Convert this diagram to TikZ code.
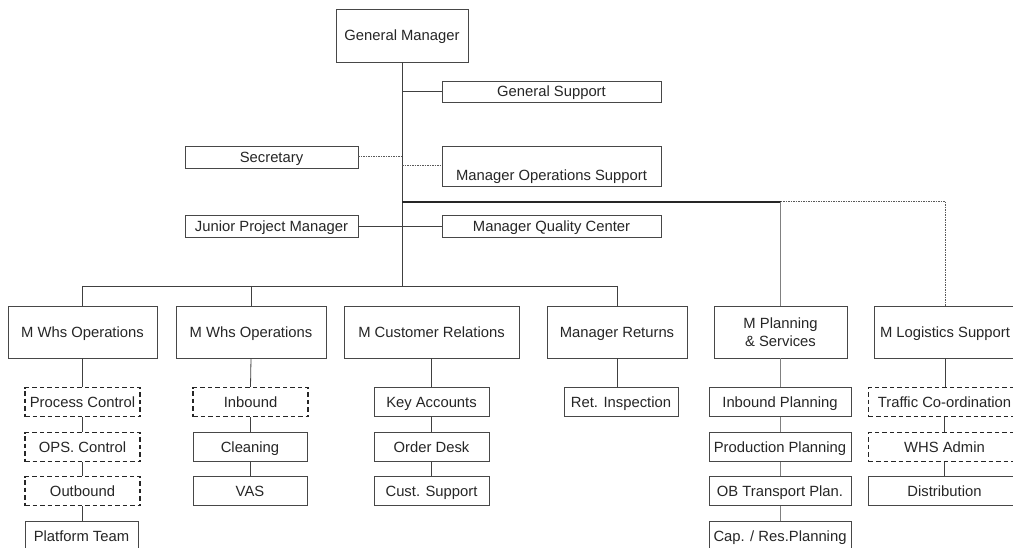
\documentclass[tikz,border=0pt]{standalone}
\usepackage{fontspec}
\setmainfont{Liberation Sans}
\begin{document}
\begin{tikzpicture}[x=1pt,y=-1pt,
  box/.style={draw=black!72, line width=0.7pt, inner sep=0pt, fill=white,
    font=\fontsize{14.8}{18}\selectfont, text=black!85, align=center,
    text height=10.6pt, text depth=0pt},
  dbox/.style={box, draw=black!85, line width=1.1pt, dash pattern=on 4.5pt off 3pt},
  link/.style={draw=black!75, line width=0.8pt},
  heavylink/.style={draw=black!85, line width=1.6pt},
  lightlink/.style={draw=black!50, line width=0.7pt},
  dotlink/.style={draw=black!65, line width=1pt, dash pattern=on 1.5pt off 1pt},
  lbl/.style={inner sep=0pt, font=\fontsize{14.8}{18}\selectfont, text=black!85,
    text height=10.6pt, text depth=0pt}]
\useasboundingbox (0,0) rectangle (1013,548);
\clip (0,0) rectangle (1013,548);

% top management
\node[box, minimum width=132pt, minimum height=53pt] (gm) at (402,35.5) {General Manager};
\node[box, minimum width=219pt, minimum height=21pt] (gs) at (551.5,91.5) {General Support};
\node[box, minimum width=173pt, minimum height=22pt] (sec) at (271.5,157) {Secretary};
\node[box, minimum width=219pt, minimum height=40pt] (mos) at (551.5,166) {};
\node[lbl] (mostext) at (551.5,175) {Manager Operations Support};
\node[box, minimum width=173pt, minimum height=22pt] (jpm) at (271.5,226) {Junior Project Manager};
\node[box, minimum width=219pt, minimum height=22pt] (mqc) at (551.5,226) {Manager Quality Center};

% department managers
\tikzset{mgr/.style={box, minimum height=52pt}}
\node[mgr, minimum width=149pt] (mw1) at (82.5,332) {M Whs Operations};
\node[mgr, minimum width=150pt] (mw2) at (251,332) {M Whs Operations};
\node[mgr, minimum width=175pt] (mcr) at (431.5,332) {M Customer Relations};
\node[mgr, minimum width=140pt] (mr) at (617,332) {Manager Returns};
\node[mgr, minimum width=133pt, text height=, text depth=] (mps) at (780.5,332) {M Planning\\\& Services};
\node[mgr, minimum width=142pt] (mls) at (945,332) {M Logistics Support};

% teams
\tikzset{team/.style={box, minimum height=29pt, minimum width=115pt},
         dteam/.style={dbox, minimum height=29pt, minimum width=115pt}}
\node[dteam] (pc) at (82.5,402) {Process Control};
\node[dteam] (opc) at (82.5,447) {OPS. Control};
\node[dteam] (ob) at (82.5,491) {Outbound};
\node[team, minimum width=113pt] (pt) at (81.5,536) {Platform Team};

\node[dteam] (inb) at (250.5,402) {Inbound};
\node[team, minimum width=114pt] (cln) at (250,447) {Cleaning};
\node[team, minimum width=114pt] (vas) at (250,491) {VAS};

\node[team] (ka) at (431.5,402) {Key Accounts};
\node[team] (od) at (431.5,447) {Order Desk};
\node[team] (cs) at (431.5,491) {Cust. Support};

\node[team, minimum width=114pt] (ri) at (621,402) {Ret. Inspection};

\node[team, minimum width=142pt] (ibp) at (780,402) {Inbound Planning};
\node[team, minimum width=142pt] (pp) at (780,447) {Production Planning};
\node[team, minimum width=142pt] (obt) at (780,491) {OB Transport Plan.};
\node[team, minimum width=142pt] (cap) at (780,536) {Cap. / Res.Planning};

\node[dteam, minimum width=152pt] (tc) at (944.5,402) {Traffic Co-ordination};
\node[dteam, minimum width=152pt] (wa) at (944.5,447) {WHS Admin};
\node[team, minimum width=152pt] (dist) at (944.5,491) {Distribution};

% junction points of the main lines
\coordinate (busy) at (402,286);
\coordinate (stafy) at (402,202);
\coordinate (mosj) at (402,166);

% trunk and staff links
\draw[link] (gm.south) -- (gm.south |- busy);
\draw[link] (gm.south |- gs.west) -- (gs.west);
\draw[dotlink] (sec.east) -- (sec.east -| gm.south);
\draw[dotlink] (mosj) -- (mos.west);
\draw[link] (jpm.east) -- (mqc.west);

% staff line to planning and logistics
\draw[heavylink] (stafy) -- (stafy -| mps.north);
\draw[dotlink] (stafy -| mps.north) -- (stafy -| mls.north);
\draw[lightlink] (stafy -| mps.north) -- (mps.north);
\draw[dotlink] (stafy -| mls.north) -- (mls.north);

% bus to operational managers
\draw[link] (busy -| mw1.north) -- (busy -| mr.north);
\draw[link] (busy -| mw1.north) -- (mw1.north);
\draw[link] (busy -| mw2.north) -- (mw2.north);
\draw[link] (busy -| mr.north) -- (mr.north);

% team chains
\draw[link] (mw1.south) -- (pc.north);
\draw[link] (pc.south) -- (opc.north);
\draw[link] (opc.south) -- (ob.north);
\draw[link] (ob.south) -- (ob.south |- pt.north);

\draw[link] (mw2.south) -- (inb.north);
\draw[link] (inb.south) -- (inb.south |- cln.north);
\draw[link] (cln.south) -- (vas.north);

\draw[link] (mcr.south) -- (ka.north);
\draw[link] (ka.south) -- (od.north);
\draw[link] (od.south) -- (cs.north);

\draw[link] (mr.south) -- (mr.south |- ri.north);

\draw[lightlink] (mps.south) -- (mps.south |- ibp.north);
\draw[lightlink] (ibp.south) -- (pp.north);
\draw[lightlink] (pp.south) -- (obt.north);
\draw[lightlink] (obt.south) -- (cap.north);

\draw[link] (mls.south) -- (mls.south |- tc.north);
\draw[link] (tc.south) -- (wa.north);
\draw[link] (wa.south) -- (wa.south |- dist.north);
\end{tikzpicture}
\end{document}
